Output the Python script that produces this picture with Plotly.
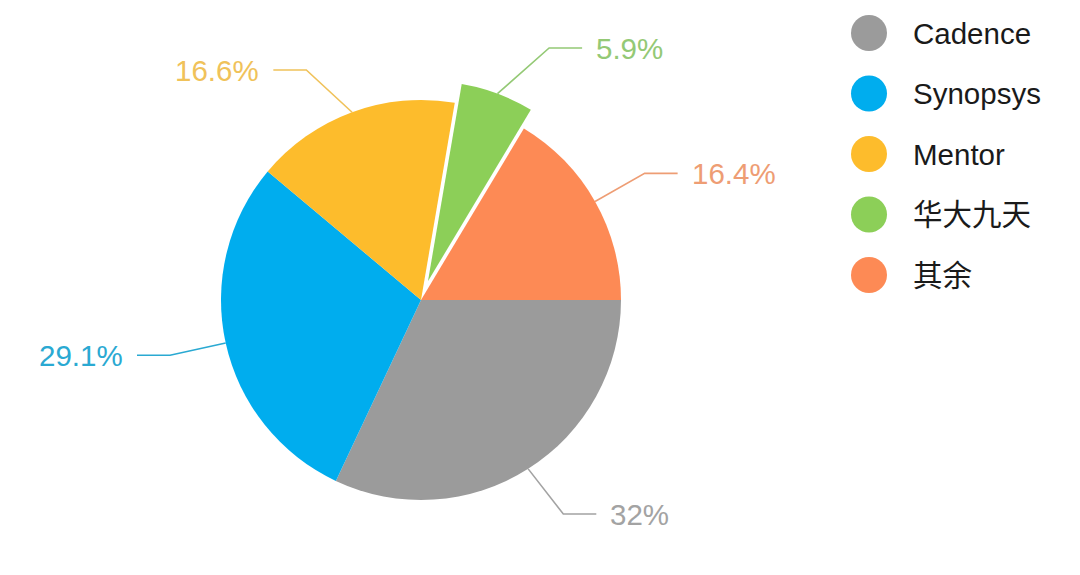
import math
import plotly.graph_objects as go

# ---- data ----
labels = ["Cadence", "Synopsys", "Mentor", "华大九天", "其余"]
values = [32, 29.1, 16.6, 5.9, 16.4]
pct_text = ["32%", "29.1%", "16.6%", "5.9%", "16.4%"]
pulls = [0, 0, 0, 0.1, 0]
slice_colors = ["#9b9b9b", "#00adee", "#fdbc2c", "#8ccf58", "#fd8a55"]
label_colors = ["#a3a3a3", "#2aa9d2", "#f0c25a", "#94c975", "#ee9d74"]

OFF = 8  # page body margin
W, H = 1080 - OFF, 575 - OFF
CX, CY, R = 421 - OFF, 300 - OFF, 200
max_pull = max(pulls)
half = R * (1 + max_pull)
FONT = "Liberation Sans, Arial, Noto Sans CJK SC, sans-serif"
FS = 29.5

# label layout limits (vertical band in which labels may sit, per side)
LABEL_TOP = {1: 48 - OFF, -1: 70 - OFF}
LABEL_BOTTOM = 514 - OFF

fig = go.Figure()

fig.add_trace(go.Pie(
    labels=labels, values=values, pull=pulls,
    marker=dict(colors=slice_colors, line=dict(width=0)),
    sort=False, direction="clockwise", rotation=90,
    textinfo="none", showlegend=False, hoverinfo="label+percent",
    domain=dict(x=[(CX - half) / W, (CX + half) / W],
                y=[(H - CY - half) / H, (H - CY + half) / H]),
))

# leader lines + labels computed from the values
total = sum(values)
acc = 0.0
annotations = []
for i, v in enumerate(values):
    mid = (acc + v / 2) / total * 2 * math.pi  # clockwise from east (screen coords, y down)
    acc += v
    c, s = math.cos(mid), math.sin(mid)
    p = pulls[i] * R
    r0 = R + p
    r1 = 257 * (1 + pulls[i])
    sgn = 1 if c >= 0 else -1
    x0, y0 = CX + r0 * c, CY + r0 * s
    y1 = CY + r1 * s
    y1 = min(max(y1, LABEL_TOP[sgn]), LABEL_BOTTOM)
    dy = y1 - CY
    x1 = CX + sgn * math.sqrt(max(r1 * r1 - dy * dy, 0))
    x2, y2 = x1 + sgn * 33, y1
    fig.add_trace(go.Scatter(
        x=[x0, x1, x2], y=[y0, y1, y2], mode="lines",
        line=dict(color=label_colors[i], width=1.6),
        showlegend=False, hoverinfo="skip", xaxis="x", yaxis="y",
    ))
    annotations.append(dict(
        x=x2 + sgn * 12, y=y2, xref="x", yref="y", text=pct_text[i],
        showarrow=False, xanchor="left" if sgn > 0 else "right", yanchor="middle",
        font=dict(family=FONT, size=FS, color=label_colors[i]),
    ))

# custom legend with large circular markers
LX, LY0, LDY = 869 - OFF, 33 - OFF, 60.5
fig.add_trace(go.Scatter(
    x=[LX] * len(labels), y=[LY0 + LDY * i for i in range(len(labels))],
    mode="markers", marker=dict(size=36, color=slice_colors, line=dict(width=0)),
    showlegend=False, hoverinfo="skip",
))
for i, lab in enumerate(labels):
    annotations.append(dict(
        x=LX + 42, y=LY0 + LDY * i, xref="x", yref="y", text=lab,
        showarrow=False, xanchor="left", yanchor="middle",
        font=dict(family=FONT, size=FS, color="#1a1a1a"),
    ))

fig.update_layout(
    width=W, height=H, autosize=False,
    margin=dict(l=0, r=0, t=0, b=0),
    paper_bgcolor="white", plot_bgcolor="rgba(0,0,0,0)",
    xaxis=dict(range=[0, W], visible=False, fixedrange=True),
    yaxis=dict(range=[H, 0], visible=False, fixedrange=True),
    annotations=annotations,
    showlegend=False,
)

fig.write_html("out.html")
